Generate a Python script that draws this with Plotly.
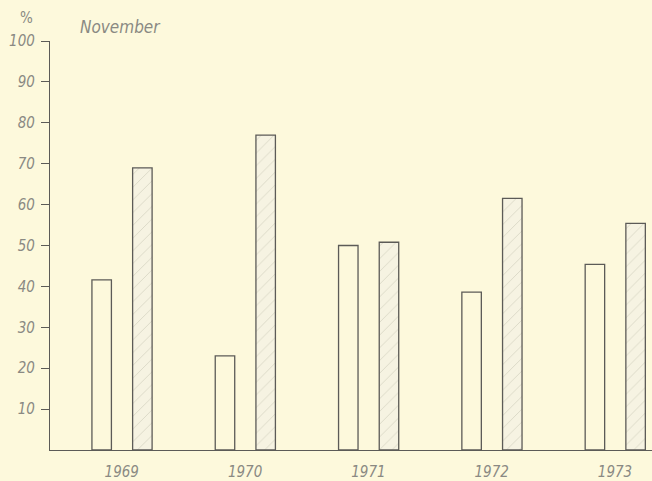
import plotly.graph_objects as go

# November shares (%) per year: plain bars and hatched bars
years = ["1969", "1970", "1971", "1972", "1973"]
plain_values = [41.6, 23.0, 50.0, 38.6, 45.4]
hatched_values = [69.0, 77.0, 50.8, 61.5, 55.4]
y_ticks = [10, 20, 30, 40, 50, 60, 70, 80, 90, 100]

paper = "#fdf9dc"
ink = "#5c5b57"
label_grey = "#8a8983"
font_family = "DejaVu Sans Condensed, DejaVu Sans, sans-serif"

fig = go.Figure()

fig.add_trace(go.Bar(
    x=years, y=plain_values,
    width=0.158, offset=-0.242,
    marker=dict(color=paper, line=dict(color=ink, width=1.3)),
    showlegend=False, hoverinfo="skip",
))

fig.add_trace(go.Bar(
    x=years, y=hatched_values,
    width=0.158, offset=0.088,
    marker=dict(
        color="#f6f3e2",
        line=dict(color=ink, width=1.3),
        pattern=dict(shape="/", fgcolor="#bdbaa9", bgcolor="#f6f3e2",
                     size=9, solidity=0.1),
    ),
    showlegend=False, hoverinfo="skip",
))

# plot area in pixels
left, right, top, bottom = 50, 0, 41, 31
plot_w = 652 - left - right
plot_h = 481 - top - bottom


def px_to_paper(x_px, y_px):
    return (x_px - left) / plot_w, (481 - y_px - bottom) / plot_h


pct_x, pct_y = px_to_paper(26, 18)
title_x, title_y = px_to_paper(120, 27)

fig.update_layout(
    width=652, height=481,
    margin=dict(l=left, r=right, t=top, b=bottom),
    paper_bgcolor=paper, plot_bgcolor=paper,
    barmode="overlay",
    font=dict(family=font_family, color=label_grey, size=15, style="italic"),
    xaxis=dict(
        type="category", range=[-0.582, 4.300], automargin=False,
        showline=True, linecolor=ink, linewidth=1.3,
        showgrid=False, zeroline=False, ticks="",
        ticklabelstandoff=8,
        tickfont=dict(family=font_family, size=15, color=label_grey, style="italic"),
    ),
    yaxis=dict(
        range=[0, 100], tickvals=y_ticks, automargin=False,
        showline=True, linecolor=ink, linewidth=1.3,
        showgrid=False, zeroline=False,
        ticks="outside", ticklen=8, tickcolor=ink, tickwidth=1,
        ticklabelstandoff=3,
        tickfont=dict(family=font_family, size=15, color=label_grey, style="italic"),
    ),
    annotations=[
        dict(text="%", x=pct_x, y=pct_y, xref="paper", yref="paper",
             xanchor="center", yanchor="middle", showarrow=False,
             font=dict(size=15, color=label_grey, style="normal")),
        dict(text="November", x=title_x, y=title_y, xref="paper", yref="paper",
             xanchor="center", yanchor="middle", showarrow=False,
             font=dict(size=17, color=label_grey, style="italic")),
    ],
)

fig.write_html("out.html")
